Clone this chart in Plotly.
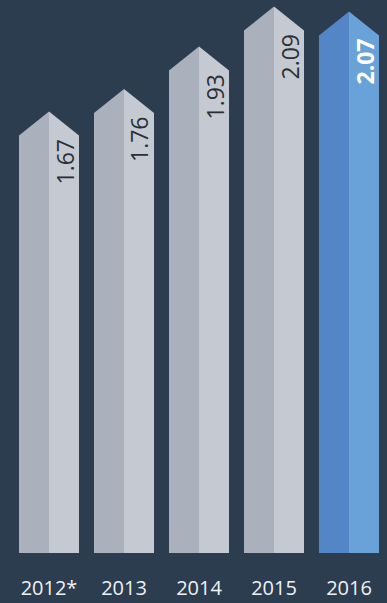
import plotly.graph_objects as go

years = ["2012*", "2013", "2014", "2015", "2016"]
values = [1.67, 1.76, 1.93, 2.09, 2.07]
labels = ["1.67", "1.76", "1.93", "2.09", "2.07"]

BG = "#2c3d50"
LEFT = ["#aab1bd"] * 4 + ["#5385c7"]
RIGHT = ["#c5cad2"] * 4 + ["#69a1d9"]
TXT = ["#2a2f36"] * 4 + ["#ffffff"]
HALF = 0.4
ROOF = 0.096
OVERLAP = 0.01

xs = list(range(len(years)))
fig = go.Figure()

fig.add_trace(go.Bar(x=xs, y=values, width=[HALF] * len(xs), offset=-HALF,
                     marker=dict(color=LEFT, line=dict(width=0)), hoverinfo="skip"))
fig.add_trace(go.Bar(x=xs, y=values, width=[HALF] * len(xs), offset=0,
                     marker=dict(color=RIGHT, line=dict(width=0)), hoverinfo="skip"))

for i, v in enumerate(values):
    fig.add_trace(go.Scatter(x=[i - HALF, i - HALF, i, i, i - HALF],
                             y=[v - OVERLAP, v, v + ROOF, v - OVERLAP, v - OVERLAP],
                             mode="lines", fill="toself", fillcolor=LEFT[i],
                             line=dict(width=0, color=LEFT[i]), hoverinfo="skip"))
    fig.add_trace(go.Scatter(x=[i, i, i + HALF, i + HALF, i],
                             y=[v - OVERLAP, v + ROOF, v, v - OVERLAP, v - OVERLAP],
                             mode="lines", fill="toself", fillcolor=RIGHT[i],
                             line=dict(width=0, color=RIGHT[i]), hoverinfo="skip"))
    fig.add_annotation(x=i + HALF / 2, y=v, xref="x", yref="y", text=labels[i],
                       textangle=-90, showarrow=False, xanchor="center", yanchor="top",
                       yshift=-1,
                       font=dict(family="Open Sans", size=23, color=TXT[i],
                                 weight="bold" if i == 4 else "normal"))

fig.update_layout(
    width=387, height=603,
    margin=dict(l=0, r=0, t=0, b=50),
    paper_bgcolor=BG, plot_bgcolor=BG,
    barmode="overlay", showlegend=False, bargap=0,
    xaxis=dict(range=[-49 / 75, -49 / 75 + 387 / 75], tickvals=xs, ticktext=years,
               showgrid=False, zeroline=False, showline=False, ticks="",
               automargin=False, ticklabelstandoff=21,
               tickfont=dict(family="Open Sans", size=20, color="#eef1f4")),
    yaxis=dict(range=[0, 553 / 250], visible=False, showgrid=False, zeroline=False,
               automargin=False),
)

fig.write_html("out.html")
